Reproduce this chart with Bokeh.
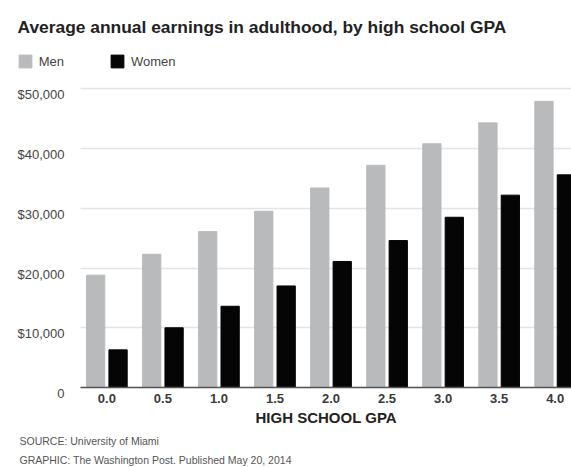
from bokeh.plotting import figure
from bokeh.models import (ColumnDataSource, Range1d, FixedTicker, NumeralTickFormatter,
                          Legend, LegendItem, LabelSet, Title, Grid)
from bokeh.core.properties import value
from bokeh.transform import dodge
from bokeh.embed import file_html
from bokeh.resources import INLINE

# ---- data ----
gpa = [0.0, 0.5, 1.0, 1.5, 2.0, 2.5, 3.0, 3.5, 4.0]
men = [18800, 22300, 26100, 29500, 33400, 37200, 40800, 44300, 47900]
women = [6300, 10000, 13600, 17000, 21100, 24600, 28500, 32200, 35600]
y_ticks = [0, 10000, 20000, 30000, 40000, 50000]
y_tick_labels = ["0", "$10,000", "$20,000", "$30,000", "$40,000", "$50,000"]
title_text = "Average annual earnings in adulthood, by high school GPA"
x_title = "HIGH SCHOOL GPA"
source_text = "SOURCE: University of Miami"
credit_text = "GRAPHIC: The Washington Post. Published May 20, 2014"

src = ColumnDataSource(dict(gpa=gpa, men=men, women=women))
ysrc = ColumnDataSource(dict(tick=y_ticks, label=y_tick_labels))

X0, X1 = -0.8061, 4.1457      # visible x range (frame spans page x 16..571)
PLOT_X0 = -0.2351             # where gridlines / baseline begin
p = figure(width=571, height=467, output_backend="svg", toolbar_location=None,
           x_range=Range1d(X0, X1), y_range=Range1d(-1840, 57250),
           min_border_left=16, min_border_right=0, min_border_top=45,
           min_border_bottom=69)
p.outline_line_color = None
p.background_fill_color = "white"
p.border_fill_color = "white"

r_men = p.vbar(x=dodge("gpa", -0.1, range=p.x_range), top="men", bottom=0,
               width=0.163, source=src, fill_color="#b9babc", line_color="#b9babc")
r_women = p.vbar(x=dodge("gpa", 0.1, range=p.x_range), top="women", bottom=0,
                 width=0.163, source=src, fill_color="#050505", line_color="#050505")

# x axis (tick labels only; the zero line is drawn by a dark grid line)
xa = p.xaxis[0]
xa.ticker = FixedTicker(ticks=gpa)
xa.formatter = NumeralTickFormatter(format="0.0")
xa.axis_line_color = None
xa.major_tick_line_color = None
xa.minor_tick_line_color = None
xa.major_tick_out = 0
xa.major_label_standoff = -5
xa.major_label_text_font = "Liberation Sans"
xa.major_label_text_font_style = "bold"
xa.major_label_text_font_size = "13px"
xa.major_label_text_color = "#3a3a3a"

# y axis: labels sit just under each gridline, left of the plot area
ya = p.yaxis[0]
ya.ticker = FixedTicker(ticks=y_ticks)
ya.visible = False
p.add_layout(LabelSet(x=48, y="tick", text="label", source=ysrc,
                      x_units="screen", y_units="data", y_offset=-6,
                      text_align="right", text_baseline="middle",
                      text_font=value("Liberation Sans"),
                      text_font_size=value("13px"),
                      text_color="#444444"))

p.xgrid.grid_line_color = None
yg = p.ygrid[0]
yg.ticker = FixedTicker(ticks=y_ticks)
yg.grid_line_color = "#e4e4e4"
yg.grid_line_width = 1.5
has_cb = "cross_bounds" in yg.properties()
if has_cb:
    yg.cross_bounds = (PLOT_X0, X1)

base = Grid(dimension=1, ticker=FixedTicker(ticks=[y_ticks[0]]),
            grid_line_color="#555555", grid_line_width=1.5, level="annotation")
if has_cb:
    base.cross_bounds = (PLOT_X0, X1)
p.add_layout(base)

legend = Legend(items=[LegendItem(label="Men", renderers=[r_men]),
                       LegendItem(label="Women", renderers=[r_women])],
                orientation="horizontal", location=(0.7, 329),
                glyph_width=16, glyph_height=16, label_standoff=6, spacing=45,
                padding=0, margin=0, border_line_color=None,
                background_fill_alpha=0,
                label_text_font="Liberation Sans", label_text_font_size="13px",
                label_text_color="#444444")
p.add_layout(legend, "center")

p.title.text = title_text
p.title.align = "left"
p.title.offset = 1
p.title.standoff = 18
p.title.text_font = "Liberation Sans"
p.title.text_font_style = "bold"
p.title.text_font_size = "17.4px"
p.title.text_color = "#222222"

# x-axis title, centred on the plotted area (page x 80..571)
p.add_layout(Title(text=x_title, align="left", offset=239, standoff=2,
                   text_font="Liberation Sans", text_font_style="bold",
                   text_font_size="15px", text_color="#222222"), "below")
p.add_layout(Title(text=source_text, align="left", offset=3, standoff=12,
                   text_font="Liberation Sans", text_font_style="normal",
                   text_font_size="10.5px", text_color="#555555"), "below")
p.add_layout(Title(text=credit_text, align="left", offset=3, standoff=-1,
                   text_font="Liberation Sans", text_font_style="normal",
                   text_font_size="10.5px", text_color="#555555"), "below")

open("out.html", "w").write(file_html(p, INLINE))
